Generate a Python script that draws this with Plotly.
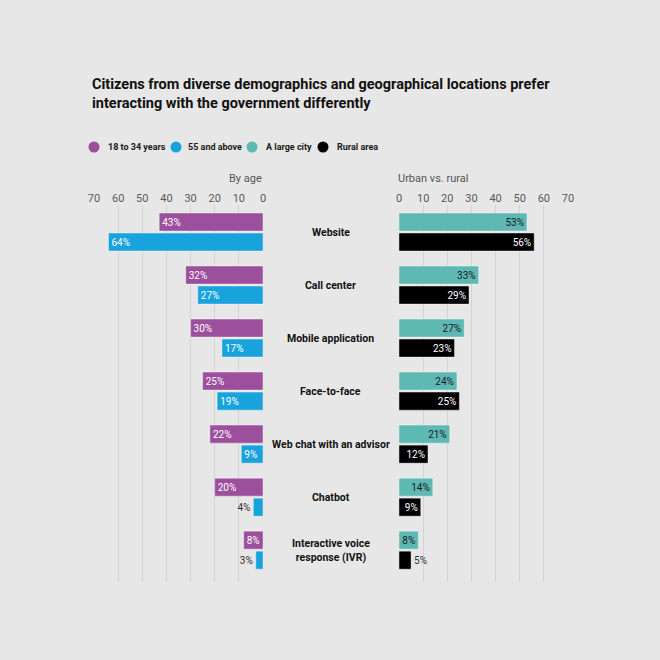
import plotly.graph_objects as go

categories = ["Website", "Call center", "Mobile application", "Face-to-face",
              "Web chat with an advisor", "Chatbot", "Interactive voice<br>response (IVR)"]
age_18_34 = [43, 32, 30, 25, 22, 20, 8]
age_55_up = [64, 27, 17, 19, 9, 4, 3]
large_city = [53, 33, 27, 24, 21, 14, 8]
rural_area = [56, 29, 23, 25, 12, 9, 5]
tick_vals = [0, 10, 20, 30, 40, 50, 60, 70]
legend_names = ["18 to 34 years", "55 and above", "A large city", "Rural area"]

BG = "#e6e7e6"
PURPLE = "#9c4f9c"
BLUE = "#19a3dd"
TEAL = "#5eb9b4"
BLACK = "#000000"
FONT = "Roboto"

def pct(vals):
    return [f"{v}%" for v in vals]

def txtpos(vals, thr):
    return ["inside" if v >= thr else "outside" for v in vals]

fig = go.Figure()

bar_common = dict(orientation="h", insidetextanchor="end", cliponaxis=False,
                  textfont=dict(family=FONT, size=10), showlegend=False,
                  marker_line=dict(width=0.8, color="rgba(255,255,255,0.5)"))

series = [
    (age_18_34, PURPLE, "white", "x", "y"),
    (age_55_up, BLUE, "white", "x", "y"),
    (large_city, TEAL, "#1a1a1a", "x2", "y2"),
    (rural_area, BLACK, "white", "x2", "y2"),
]
for name, (vals, col, tcol, xa, ya) in zip(legend_names, series):
    fig.add_trace(go.Bar(y=categories, x=vals, text=pct(vals), name=name,
                         textposition=txtpos(vals, 6), marker_color=col,
                         insidetextfont=dict(color=tcol, family=FONT, size=10),
                         outsidetextfont=dict(color="#333333", family=FONT, size=10),
                         xaxis=xa, yaxis=ya, **bar_common))

# legend circles: one legend per series (names shown as text annotations beside them)
legend_circle_x = [94, 176, 252, 323]
legend_text_x = [106, 186, 264, 335]
legend_layouts = {}
for i, (name, (_, col, _, _, _)) in enumerate(zip(legend_names, series)):
    lname = "legend" if i == 0 else f"legend{i + 1}"
    fig.add_trace(go.Scatter(x=[None], y=[None], mode="markers", name="",
                             legendgroup=name, legend=lname,
                             marker=dict(color=col, size=11, symbol="circle"),
                             showlegend=True))
    legend_layouts[lname] = dict(
        orientation="h", x=(legend_circle_x[i] - 20) / 660, y=1 - 147 / 660,
        yanchor="middle", xanchor="left", bgcolor="rgba(0,0,0,0)",
        font=dict(family=FONT, size=10, color="#1a1a1a"), itemwidth=30)

ydom = [1 - 582 / 660, 1 - 205 / 660]
yrange = [len(categories) - 0.4, -0.51]

axis_x = dict(side="top", tickvals=tick_vals, showgrid=True, gridcolor="#d2d3d2",
              gridwidth=1, zeroline=False, showline=False, ticks="",
              tickfont=dict(family=FONT, size=11, color="#5a5a5a"), fixedrange=True)

fig.update_layout(
    width=660, height=660,
    paper_bgcolor=BG, plot_bgcolor=BG,
    margin=dict(l=0, r=0, t=0, b=0, autoexpand=False),
    barmode="group", bargap=0.245, bargroupgap=0.1,
    xaxis=dict(domain=[94 / 660, 263 / 660], range=[70, 0], anchor="y", **axis_x),
    xaxis2=dict(domain=[399 / 660, 568 / 660], range=[0, 70], anchor="y2", **axis_x),
    yaxis=dict(domain=ydom, range=yrange, type="category", showticklabels=False,
               showgrid=False, zeroline=False, anchor="x"),
    yaxis2=dict(domain=ydom, range=yrange, type="category", showticklabels=False,
                showgrid=False, zeroline=False, anchor="x2"),
    showlegend=True,
    title=dict(text="Citizens from diverse demographics and geographical locations prefer<br>"
                    "interacting with the government differently",
               x=92 / 660, xanchor="left", y=1 - 89 / 660, yanchor="top",
               font=dict(family=FONT, size=14.5, color="#111111", weight="bold")),
    font=dict(family=FONT),
    **legend_layouts,
)

for name, lx in zip(legend_names, legend_text_x):
    fig.add_annotation(x=lx / 660, xref="paper", y=1 - 147 / 660, yref="paper",
                       text=name, showarrow=False, xanchor="left", yanchor="middle",
                       font=dict(family=FONT, size=9, color="#1a1a1a", weight="bold"))

for c in categories:
    fig.add_annotation(x=331 / 660, xref="paper", y=c, yref="y", text=c,
                       showarrow=False, xanchor="center", yanchor="middle",
                       font=dict(family=FONT, size=10.5, color="#111111", weight="bold"))

fig.add_annotation(x=264 / 660, xref="paper", y=1 - 178 / 660, yref="paper",
                   text="By age", showarrow=False, xanchor="right", yanchor="middle",
                   font=dict(family=FONT, size=11, color="#555555"))
fig.add_annotation(x=396 / 660, xref="paper", y=1 - 178 / 660, yref="paper",
                   text="Urban vs. rural", showarrow=False, xanchor="left", yanchor="middle",
                   font=dict(family=FONT, size=11, color="#555555"))

fig.write_html("out.html", config={"displayModeBar": False},
               post_script="document.body.style.margin='0';"
                           "document.body.style.background='#e6e7e6';")
